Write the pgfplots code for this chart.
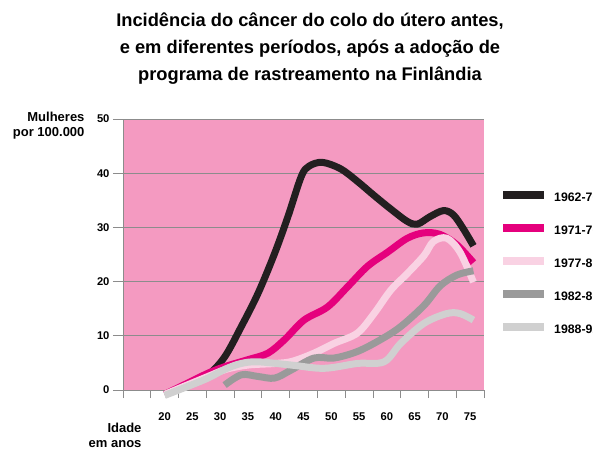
\documentclass[border=0pt]{standalone}
\usepackage{pgfplots}
\pgfplotsset{compat=1.18}
\usepackage{fontspec}
\setmainfont{Liberation Sans}
\definecolor{bgpink}{RGB}{244,154,193}
\definecolor{gridgray}{RGB}{140,140,140}
\definecolor{cblack}{RGB}{35,31,32}
\definecolor{cmag}{RGB}{229,0,125}
\definecolor{clpink}{RGB}{249,210,227}
\definecolor{cgray}{RGB}{154,154,154}
\definecolor{clgray}{RGB}{208,208,208}
\begin{document}
\begin{tikzpicture}
\useasboundingbox (-123pt,-68pt) rectangle (470pt,390pt);
\begin{axis}[
  scale only axis, width=361pt, height=271pt,
  xmin=12.5, xmax=77.5, ymin=0, ymax=50,
  clip=false,
  axis background/.style={fill=bgpink},
  axis x line*=bottom, axis y line*=left,
  axis line style={gridgray, line width=0.8pt, -},
  ytick={0,10,...,50},
  ymajorgrids, major grid style={gridgray, line width=0.8pt},
  xtick={20,25,...,75},
  minor xtick={12.5,17.5,...,77.5},
  tick align=outside,
  major tick length=10pt,
  minor tick length=8pt,
  major x tick style={draw=none},
  minor x tick style={gridgray, line width=0.8pt},
  major y tick style={gridgray, line width=0.8pt},
  /pgf/number format/assume math mode=true,
  tick label style={font=\bfseries\fontsize{11.2}{13}\selectfont},
  xticklabel style={yshift=-9.5pt},
  legend style={at={(1.0416,0.736)}, anchor=north west, draw=none, fill=none,
    font=\bfseries\fontsize{12.3}{14}\selectfont, row sep=21pt, column sep=6pt,
    inner sep=0pt, nodes={inner sep=0pt}},
  legend cell align=left,
  legend image code/.code={\draw[#1, line width=8pt] (0pt,3pt) -- (41pt,3pt);},
  every axis plot/.append style={line width=7pt, smooth, tension=0.55, line join=round},
]
\addplot[cblack] coordinates {(20,-0.8) (24,0.8) (27.8,2.8) (30.8,6.1) (33.8,11.7) (36.8,17.8) (39.8,25.2) (42.2,32) (44.6,39.4) (46,41.3) (48.4,42) (51.7,40.8) (54.7,38.5) (57.7,35.9) (60.7,33.4) (63.7,31.1) (65.5,30.6) (67.8,32.0) (70.2,33.1) (72,32.3) (73.8,29.7) (75.6,26.6)};
\addlegendentry{1962-76}
\addplot[cmag] coordinates {(20,-0.8) (24,1.2) (27.8,3.1) (30.8,4.3) (35,5.6) (38.6,6.8) (41.6,9.3) (45.1,12.9) (49.3,15.3) (52.9,19.0) (56.5,22.8) (60.1,25.4) (63.7,28.0) (66.7,29.0) (69.6,28.7) (72.6,26.8) (75.6,23.5)};
\addlegendentry{1971-76}
\addplot[clpink] coordinates {(20,-0.8) (24,0.9) (27.8,2.5) (31,3.8) (35,4.6) (40,4.9) (43,5.3) (46.9,6.8) (50.5,8.6) (54.7,10.5) (57.7,14.1) (60.7,18.4) (63.7,21.5) (66.7,24.8) (68.4,27.4) (70.8,28.0) (73.2,25.4) (75.6,19.9)};
\addlegendentry{1977-81}
\addplot[cgray] coordinates {(30.8,0.9) (33.8,2.8) (36.8,2.5) (39.8,2.2) (42.8,3.7) (46.9,5.9) (50.5,5.9) (54.7,7.1) (58.9,9.3) (62.5,11.7) (66.7,15.6) (69.6,19.2) (72.6,21.2) (75.6,22.0)};
\addlegendentry{1982-86}
\addplot[clgray] coordinates {(20,-1) (24,0.6) (27.8,2.2) (31,3.9) (33.8,4.9) (36.8,5.2) (42.8,4.6) (48.7,4.0) (54.7,4.9) (59.5,5.2) (62.5,8.6) (66.7,12.3) (70.8,14.1) (73.2,14.1) (75.6,12.9)};
\addlegendentry{1988-92}
\end{axis}
\node[align=center, font=\bfseries\fontsize{18.3}{27}\selectfont] at (187pt,341pt)
  {Incidência do câncer do colo do útero antes,\\e em diferentes períodos, após a adoção de\\programa de rastreamento na Finlândia};
\node[anchor=east, align=right, font=\bfseries\fontsize{13}{15}\selectfont] at (-35pt,264.5pt) {Mulheres\\por 100.000};
\node[anchor=east, align=right, font=\bfseries\fontsize{13}{15}\selectfont] at (22pt,-45pt) {Idade\\em anos};
\end{tikzpicture}
\end{document}
